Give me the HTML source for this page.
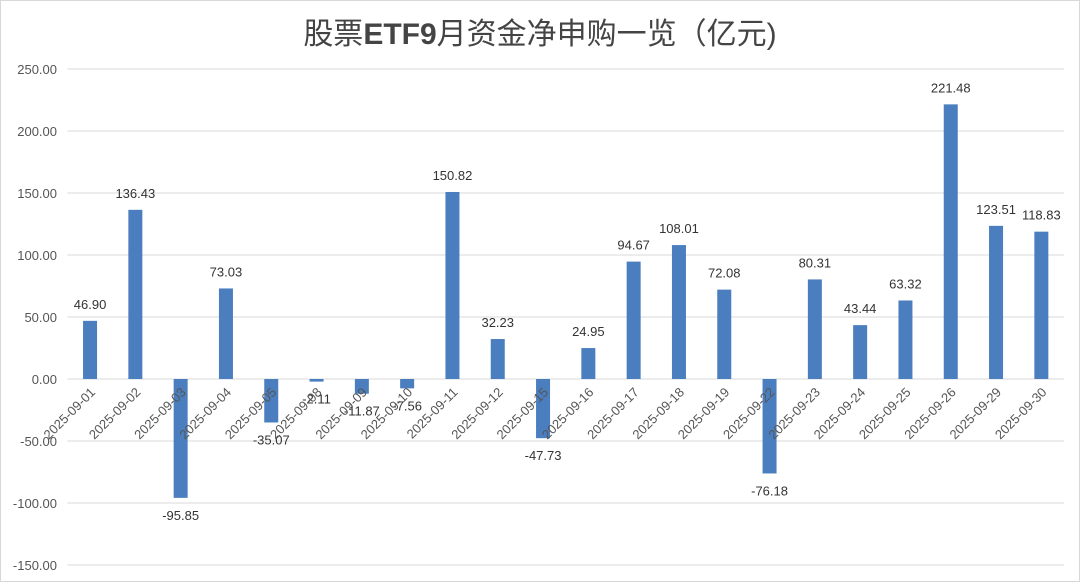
<!DOCTYPE html>
<html><head><meta charset="utf-8"><style>
body{margin:0;background:#fff;width:1080px;height:582px;overflow:hidden}
svg text{font-family:"Liberation Sans","Noto Sans CJK SC",sans-serif}
</style></head><body>
<svg id="chart" width="1080" height="582" viewBox="0 0 1080 582">
<rect x="0.5" y="0.5" width="1079" height="581" fill="#fff" stroke="#d8d8d8"/>
<text x="540" y="44" text-anchor="middle" font-size="30" fill="#444">股票<tspan font-weight="bold">ETF9</tspan>月资金净申购一览（亿元)</text>
<g id="grid"></g><g id="bars"></g><g id="labels"></g>
</svg>
<script>
const categories=["2025-09-01","2025-09-02","2025-09-03","2025-09-04","2025-09-05","2025-09-08","2025-09-09","2025-09-10","2025-09-11","2025-09-12","2025-09-15","2025-09-16","2025-09-17","2025-09-18","2025-09-19","2025-09-22","2025-09-23","2025-09-24","2025-09-25","2025-09-26","2025-09-29","2025-09-30"];
const values=[46.90,136.43,-95.85,73.03,-35.07,-2.11,-11.87,-7.56,150.82,32.23,-47.73,24.95,94.67,108.01,72.08,-76.18,80.31,43.44,63.32,221.48,123.51,118.83];
const ticks=[250,200,150,100,50,0,-50,-100,-150];
const NS="http://www.w3.org/2000/svg";
const x0=67.4,x1=1064,slot=(x1-x0)/categories.length;
const y=v=>379-v*1.24;
const xc=i=>x0+slot*(i+0.5);
function mk(t,a,p){const e=document.createElementNS(NS,t);for(const k in a)e.setAttribute(k,a[k]);p.appendChild(e);return e;}
const grid=document.getElementById('grid'),bars=document.getElementById('bars'),labels=document.getElementById('labels');
ticks.forEach(t=>{
 const l=mk('line',{x1:x0,x2:x1,y1:y(t),y2:y(t),stroke:'#d9d9d9','stroke-width':1},grid);
 
 
 const tx=mk('text',{x:57,y:y(t)+5,'text-anchor':'end','font-size':13,fill:'#555'},grid);
 tx.textContent=t.toFixed(2);
 
 
});
values.forEach((v,i)=>{
 const cx=xc(i),w=14;
 const r=mk('rect',{x:cx-w/2,y:Math.min(y(v),y(0)),width:w,height:Math.abs(y(v)-y(0)),fill:'#4a7ebf'},bars);
 
 
 const vl=mk('text',{x:cx,y:v>=0?y(v)-12:y(v)+22,'text-anchor':'middle','font-size':13,fill:'#333'},labels);
 vl.textContent=v.toFixed(2);
 
 
 const cl=mk('text',{x:0,y:0,'text-anchor':'end','font-size':13,fill:'#555',transform:`translate(${cx+6},${y(0)+14}) rotate(-45)`},labels);
 cl.textContent=categories[i];
 
 
});
</script>
</body></html>
